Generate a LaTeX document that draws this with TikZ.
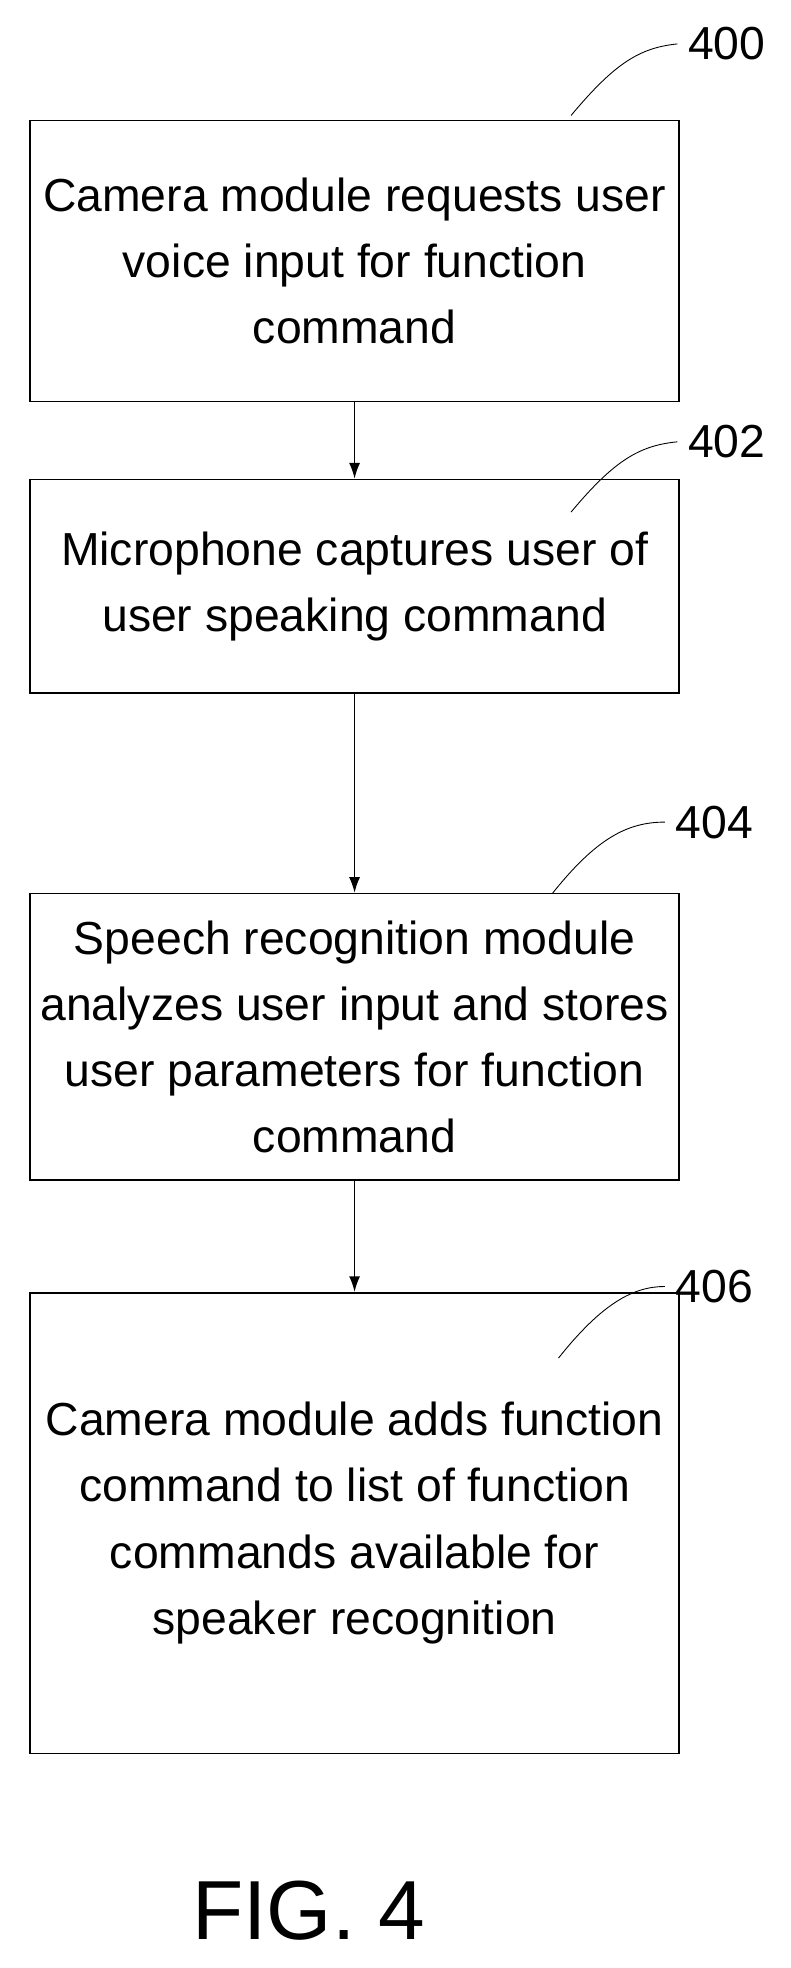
\documentclass[tikz,border=0pt]{standalone}
\usepackage{fontspec}
\usetikzlibrary{arrows.meta}
\setmainfont{Liberation Sans}
\begin{document}
\begin{tikzpicture}[x=0.4mm,y=-0.4mm,line width=1.4pt,
  box/.style={draw,minimum width=206.8mm,align=center,font=\fontsize{42}{60}\selectfont,inner sep=0pt},
  lab/.style={font=\fontsize{42}{48}\selectfont},
  arr/.style={-{Latex[length=5mm,width=3.5mm]}},
  lead/.style={line width=0.8pt}]
\useasboundingbox (0,0) rectangle (630,1568);
\node[box,minimum height=89.6mm] (b1) at (282.5,208) {Camera module requests user\\voice input for function\\command};
\node[box,minimum height=68mm] (b2) at (282.5,467) {Microphone captures user of\\user speaking command};
\node[box,minimum height=91.2mm] (b3) at (282.5,826) {Speech recognition module\\analyzes user input and stores\\user parameters for function\\command};
\node[box,minimum height=146.8mm] (b4) at (282.5,1213.5) {Camera module adds function\\command to list of function\\commands available for\\speaker recognition};
\draw[arr] (b1) -- (b2);
\draw[arr] (b2) -- (b3);
\draw[arr] (b3) -- (b4);
\node[lab] (l400) at (579,35) {400};
\node[lab] (l402) at (579,352) {402};
\node[lab] (l404) at (569,655) {404};
\node[lab] (l406) at (569,1025) {406};
\draw[lead] (455,92) .. controls (490,50) and (510,38) .. ([xshift=-2mm]l400.west);
\draw[lead] (455,408) .. controls (490,366) and (510,355) .. ([xshift=-2mm]l402.west);
\draw[lead] (440,712) .. controls (475,668) and (500,655) .. ([xshift=-2mm]l404.west);
\draw[lead] (445,1082) .. controls (480,1038) and (505,1025) .. ([xshift=-2mm]l406.west);
\node[font=\fontsize{76}{90}\selectfont] (fig) at (246,1522) {FIG. 4};
\end{tikzpicture}
\end{document}
